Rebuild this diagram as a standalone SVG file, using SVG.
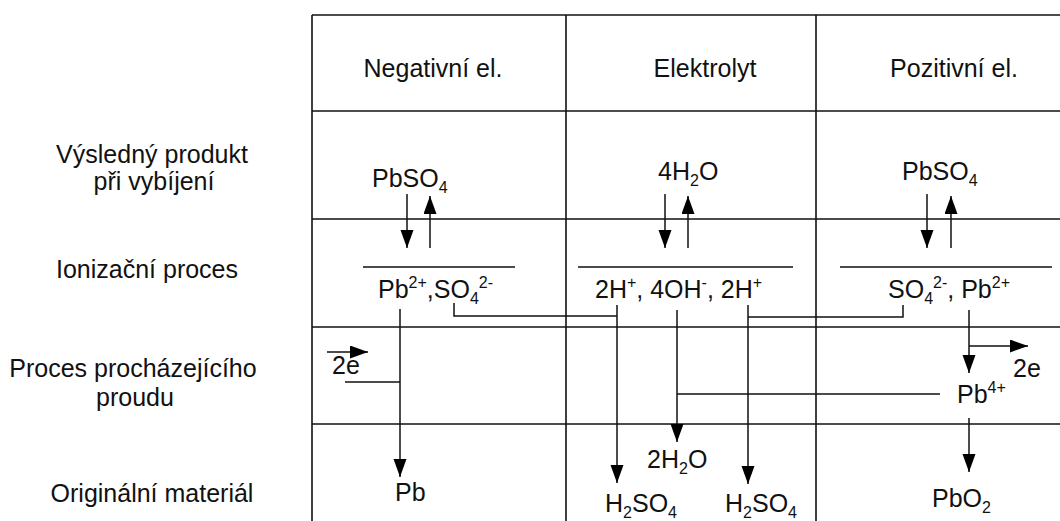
<svg xmlns="http://www.w3.org/2000/svg" width="1060" height="521" viewBox="0 0 1060 521">
<defs>
<marker id="ah" markerUnits="userSpaceOnUse" markerWidth="20" markerHeight="14" refX="18" refY="6.5" orient="auto"><path d="M0,0 L18,6.5 L0,13 z" fill="#000"/></marker>
<style>
text{font-family:"Liberation Sans",Arial,sans-serif;font-size:25px;fill:#111}
.c{text-anchor:middle}
.s{font-size:16px}
.grid line,.ion line{stroke:#111;stroke-width:1.6}
.conn path{stroke:#111;stroke-width:1.5;fill:none}
.arr{marker-end:url(#ah)}
</style>
</defs>
<rect width="1060" height="521" fill="#fff"/>
<g id="table" class="grid">
<line x1="312" y1="15" x2="1060" y2="15"/>
<line x1="312" y1="111" x2="1060" y2="111"/>
<line x1="312" y1="219" x2="1060" y2="219"/>
<line x1="312" y1="327" x2="1060" y2="327"/>
<line x1="312" y1="424" x2="1060" y2="424"/>
<line x1="312" y1="15" x2="312" y2="521"/>
<line x1="566" y1="15" x2="566" y2="521"/>
<line x1="816" y1="15" x2="816" y2="521"/>
</g>
<g id="headers">
<text id="h-neg" class="c" x="433" y="77">Negativní el.</text>
<text id="h-el" class="c" x="705" y="77">Elektrolyt</text>
<text id="h-pos" class="c" x="954" y="77">Pozitivní el.</text>
</g>
<g id="row-labels">
<text id="l-prod" class="c" x="152" y="163">Výsledný produkt</text>
<text id="l-prod2" class="c" x="154" y="190">při vybíjení</text>
<text id="l-ion" class="c" x="147" y="278">Ionizační proces</text>
<text id="l-proc" class="c" x="133" y="377">Proces procházejícího</text>
<text id="l-proc2" class="c" x="135" y="406">proudu</text>
<text id="l-orig" class="c" x="152" y="502">Originální materiál</text>
</g>
<g id="ion-lines" class="ion">
<line x1="363" y1="267" x2="515" y2="267"/>
<line x1="578" y1="267" x2="793" y2="267"/>
<line x1="840" y1="267" x2="1052" y2="267"/>
</g>
<g id="n-pbso4-neg"><text x="372" y="187">PbSO<tspan class="s" dy="6">4</tspan></text></g>
<g id="n-4h2o"><text x="658" y="180">4H<tspan class="s" dy="6">2</tspan><tspan dy="-6">O</tspan></text></g>
<g id="n-pbso4-pos"><text x="902" y="180">PbSO<tspan class="s" dy="6">4</tspan></text></g>
<g id="n-ion-neg"><text x="378" y="298">Pb<tspan class="s" dy="-10">2+</tspan><tspan dy="10">,SO</tspan><tspan class="s" dy="6">4</tspan><tspan class="s" dy="-16">2-</tspan></text></g>
<g id="n-ion-el"><text x="595" y="298">2H<tspan class="s" dy="-10">+</tspan><tspan dy="10">, 4OH</tspan><tspan class="s" dy="-10">-</tspan><tspan dy="10">, 2H</tspan><tspan class="s" dy="-10">+</tspan></text></g>
<g id="n-ion-pos"><text x="888" y="298">SO<tspan class="s" dy="6">4</tspan><tspan class="s" dy="-16">2-</tspan><tspan dy="10">, Pb</tspan><tspan class="s" dy="-10">2+</tspan></text></g>
<g id="n-2e-neg"><text x="332" y="374">2e</text></g>
<g id="n-2e-pos"><text x="1013" y="377">2e</text></g>
<g id="n-pb4"><text x="957" y="403">Pb<tspan class="s" dy="-10">4+</tspan></text></g>
<g id="n-pb"><text x="395" y="501">Pb</text></g>
<g id="n-2h2o"><text x="647" y="468">2H<tspan class="s" dy="6">2</tspan><tspan dy="-6">O</tspan></text></g>
<g id="n-h2so4-a"><text x="605" y="512">H<tspan class="s" dy="6">2</tspan><tspan dy="-6">SO</tspan><tspan class="s" dy="6">4</tspan></text></g>
<g id="n-h2so4-b"><text x="725" y="512">H<tspan class="s" dy="6">2</tspan><tspan dy="-6">SO</tspan><tspan class="s" dy="6">4</tspan></text></g>
<g id="n-pbo2"><text x="932" y="507">PbO<tspan class="s" dy="6">2</tspan></text></g>
<g id="connectors" class="conn">
<path class="arr" d="M407,194 V248"/>
<path class="arr" d="M430,248 V196"/>
<path class="arr" d="M665,194 V248"/>
<path class="arr" d="M688,248 V196"/>
<path class="arr" d="M927,194 V248"/>
<path class="arr" d="M951,248 V196"/>
<path class="arr" d="M400,309 V477"/>
<path class="arr" d="M327,352 H368"/>
<path d="M345,382 H400"/>
<path d="M454,303 V316 H617"/>
<path class="arr" d="M617,305 V483"/>
<path class="arr" d="M677,310 V442"/>
<path d="M677,394 H940"/>
<path class="arr" d="M748,305 V484"/>
<path d="M748,317 H903 V305"/>
<path class="arr" d="M969,310 V373"/>
<path class="arr" d="M969,346 H1028"/>
<path class="arr" d="M969,418 V472"/>
</g>
</svg>
